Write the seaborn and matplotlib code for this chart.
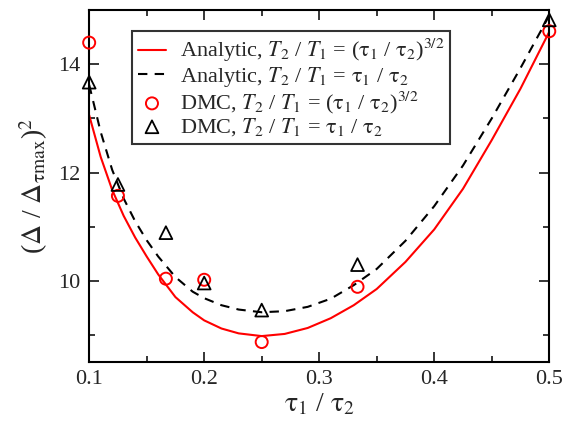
import numpy as np
import pandas as pd
import matplotlib
matplotlib.use("Agg")
import matplotlib.pyplot as plt
from matplotlib.ticker import MultipleLocator
import seaborn as sns

# analytic curves
x_curve = [0.10, 0.11, 0.12, 0.13, 0.14, 0.15, 0.16, 0.175, 0.19, 0.20, 0.215, 0.23,
           0.25, 0.27, 0.29, 0.31, 0.33, 0.35, 0.375, 0.40, 0.425, 0.45, 0.475, 0.50]
y_analytic_32 = [13.06, 12.29, 11.68, 11.20, 10.80, 10.45, 10.12, 9.70, 9.42, 9.27, 9.12, 9.03,
                 8.98, 9.02, 9.13, 9.31, 9.55, 9.85, 10.35, 10.95, 11.70, 12.60, 13.55, 14.60]
y_analytic_lin = [13.62, 12.75, 12.05, 11.52, 11.10, 10.75, 10.45, 10.07, 9.80, 9.68, 9.55, 9.47,
                  9.42, 9.44, 9.52, 9.67, 9.92, 10.22, 10.74, 11.38, 12.13, 13.00, 13.93, 14.90]

# DMC points
x_dmc = [0.1, 0.125, 0.1667, 0.2, 0.25, 0.3333, 0.5]
y_dmc_32 = [14.40, 11.57, 10.04, 10.02, 8.87, 9.89, 14.61]
y_dmc_lin = [13.67, 11.78, 10.89, 9.96, 9.46, 10.30, 14.82]

labels = [
    r"Analytic, $T_2$ / $T_1$ = ($\mathrm{\tau}_1$ / $\mathrm{\tau}_2$)$^{3/2}$",
    r"Analytic, $T_2$ / $T_1$ = $\mathrm{\tau}_1$ / $\mathrm{\tau}_2$",
    r"DMC, $T_2$ / $T_1$ = ($\mathrm{\tau}_1$ / $\mathrm{\tau}_2$)$^{3/2}$",
    r"DMC, $T_2$ / $T_1$ = $\mathrm{\tau}_1$ / $\mathrm{\tau}_2$",
]

sns.set_style("ticks")
plt.rcParams["font.family"] = ["Liberation Serif", "DejaVu Serif"]
plt.rcParams["mathtext.fontset"] = "stix"

fig = plt.figure(figsize=(5.68, 4.22), dpi=100)
ax = fig.add_axes([0.157, 0.142, 0.81, 0.834])

sns.lineplot(x=x_curve, y=y_analytic_32, color="red", linewidth=1.5, ax=ax, label=labels[0])
sns.lineplot(x=x_curve, y=y_analytic_lin, color="black", linewidth=1.5,
             linestyle=(0, (4.5, 3.5)), ax=ax, label=labels[1])
sns.scatterplot(x=x_dmc, y=y_dmc_32, marker="o", s=75, facecolor="none", edgecolor="red",
                linewidth=1.4, ax=ax, label=labels[2], clip_on=False, zorder=4)
sns.scatterplot(x=x_dmc, y=y_dmc_lin, marker="^", s=85, facecolor="none", edgecolor="black",
                linewidth=1.3, ax=ax, label=labels[3], clip_on=False, zorder=4)

ax.set_xlim(0.1, 0.5)
ax.set_ylim(8.5, 15)
ax.xaxis.set_major_locator(MultipleLocator(0.1))
ax.xaxis.set_minor_locator(MultipleLocator(0.05))
ax.yaxis.set_major_locator(MultipleLocator(2))
ax.yaxis.set_minor_locator(MultipleLocator(1))
ax.tick_params(which="both", direction="in", top=True, right=True, width=1.3, labelsize=16, pad=6)
ax.tick_params(which="major", length=7)
ax.tick_params(which="minor", length=4)
for s in ax.spines.values():
    s.set_linewidth(1.5)
    s.set_color("black")

ax.set_xlabel(r"$\mathrm{\tau}_1$ / $\mathrm{\tau}_2$", fontsize=20, labelpad=2)
ax.set_ylabel(r"($\Delta$ / $\Delta_{\mathrm{\tau max}}$)$^2$", fontsize=20, labelpad=6)

leg = ax.legend(loc="upper left", bbox_to_anchor=(0.093, 0.94), fontsize=16, frameon=True,
                fancybox=False, edgecolor="black", handlelength=1.3, handletextpad=0.6,
                borderpad=0.25, labelspacing=0.02, borderaxespad=0)
leg.get_frame().set_linewidth(1.5)

fig.savefig("out.png", dpi=100)
